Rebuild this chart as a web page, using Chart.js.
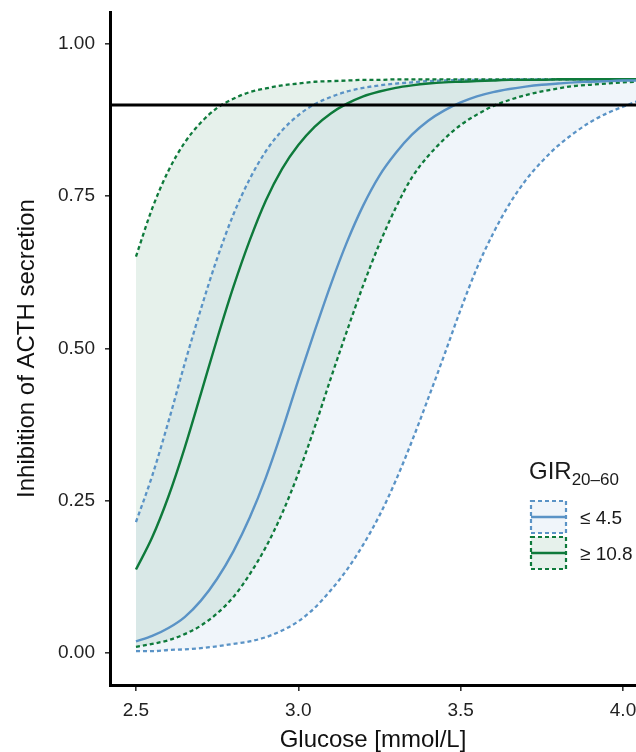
<!DOCTYPE html>
<html>
<head>
<meta charset="utf-8">
<script src="https://cdn.jsdelivr.net/npm/chart.js@4.4.1/dist/chart.umd.min.js"></script>
<style>
  html, body { margin: 0; padding: 0; background: #ffffff; }
  #wrap { position: relative; width: 636px; height: 752px; }
</style>
</head>
<body>
<div id="wrap"><canvas id="c" width="636" height="752"></canvas></div>
<script>
// Glucose grid (mmol/L)
const glucose = [2.50, 2.55, 2.60, 2.65, 2.70, 2.75, 2.80, 2.85, 2.90, 2.95,
                 3.00, 3.05, 3.10, 3.15, 3.20, 3.25, 3.30, 3.35, 3.40, 3.45,
                 3.50, 3.55, 3.60, 3.65, 3.70, 3.75, 3.80, 3.85, 3.90, 3.95,
                 4.00, 4.05];

// GIR20-60 <= 4.5: fitted curve and its band
const lowMedian = [0.019, 0.028, 0.041, 0.059, 0.086, 0.122, 0.167, 0.222, 0.288, 0.365,
                   0.448, 0.528, 0.605, 0.675, 0.735, 0.784, 0.821, 0.851, 0.874, 0.891,
                   0.904, 0.914, 0.921, 0.926, 0.930, 0.933, 0.935, 0.937, 0.938, 0.939,
                   0.940, 0.940];
const lowUpper  = [0.215, 0.291, 0.380, 0.475, 0.565, 0.648, 0.720, 0.778, 0.824, 0.858,
                   0.883, 0.901, 0.913, 0.922, 0.928, 0.932, 0.935, 0.937, 0.939, 0.940,
                   0.941, 0.941, 0.941, 0.942, 0.942, 0.942, 0.942, 0.942, 0.942, 0.942,
                   0.942, 0.942];
const lowLower  = [0.003, 0.003, 0.005, 0.006, 0.008, 0.011, 0.015, 0.019, 0.026, 0.037,
                   0.052, 0.074, 0.103, 0.137, 0.178, 0.226, 0.283, 0.348, 0.418, 0.490,
                   0.564, 0.632, 0.689, 0.737, 0.776, 0.807, 0.833, 0.854, 0.872, 0.886,
                   0.897, 0.907];

// GIR20-60 >= 10.8: fitted curve and its band
const highMedian = [0.137, 0.190, 0.257, 0.337, 0.426, 0.516, 0.601, 0.677, 0.743, 0.795,
                    0.834, 0.864, 0.886, 0.902, 0.914, 0.922, 0.928, 0.932, 0.935, 0.937,
                    0.938, 0.939, 0.940, 0.941, 0.941, 0.941, 0.942, 0.942, 0.942, 0.942,
                    0.942, 0.942];
const highUpper  = [0.651, 0.730, 0.792, 0.838, 0.871, 0.895, 0.910, 0.921, 0.927, 0.932,
                    0.935, 0.938, 0.939, 0.940, 0.941, 0.941, 0.942, 0.942, 0.942, 0.942,
                    0.942, 0.942, 0.942, 0.942, 0.942, 0.942, 0.942, 0.942, 0.942, 0.942,
                    0.942, 0.942];
const highLower  = [0.010, 0.015, 0.021, 0.031, 0.045, 0.065, 0.092, 0.129, 0.174, 0.229,
                    0.295, 0.370, 0.451, 0.529, 0.604, 0.672, 0.731, 0.781, 0.816, 0.844,
                    0.867, 0.884, 0.898, 0.908, 0.916, 0.922, 0.927, 0.931, 0.933, 0.935,
                    0.937, 0.938];

const threshold = 0.9;
const xTicks = [2.5, 3.0, 3.5, 4.0];
const yTicks = [0.00, 0.25, 0.50, 0.75, 1.00];
const groupLabels = ['\u2264 4.5', '\u2265 10.8'];
const legendTitle = 'GIR';
const legendSub = '20\u201360';

const BLUE = '#5a93c6';
const GREEN = '#0e7a3b';
const BLUE_FILL = 'rgba(91,149,200,0.09)';
const GREEN_FILL = 'rgba(14,122,59,0.10)';
const FONT = '"Liberation Sans", Arial, Helvetica, sans-serif';

const pts = ys => glucose.map((g, i) => ({ x: g, y: ys[i] }));
const lineDs = (label, ys, color, dashed, extra) => Object.assign({
  label, data: pts(ys), borderColor: color, borderWidth: dashed ? 2.3 : 2.4,
  borderDash: dashed ? [4, 3] : [], pointRadius: 0, fill: false,
  cubicInterpolationMode: 'monotone'
}, extra || {});

// Horizontal reference line at the threshold
const thresholdLine = {
  id: 'thresholdLine',
  afterDatasetsDraw(chart) {
    const { ctx, chartArea } = chart;
    const y = chart.scales.y.getPixelForValue(threshold);
    ctx.save();
    ctx.strokeStyle = '#000';
    ctx.lineWidth = 3;
    ctx.beginPath();
    ctx.moveTo(chartArea.left, y);
    ctx.lineTo(chartArea.right, y);
    ctx.stroke();
    ctx.restore();
  }
};

// Legend: title with subscript and ribbon-style keys
const groupLegend = {
  id: 'groupLegend',
  afterDraw(chart) {
    const ctx = chart.ctx;
    ctx.save();
    ctx.fillStyle = '#1a1a1a';
    ctx.textBaseline = 'alphabetic';
    ctx.textAlign = 'left';
    ctx.font = '24px ' + FONT;
    ctx.fillText(legendTitle, 529, 479);
    const w = ctx.measureText(legendTitle).width;
    ctx.font = '17px ' + FONT;
    ctx.fillText(legendSub, 529 + w, 485);

    const keys = [
      { top: 501, color: BLUE, fill: BLUE_FILL, label: groupLabels[0] },
      { top: 537, color: GREEN, fill: GREEN_FILL, label: groupLabels[1] }
    ];
    keys.forEach(k => {
      const left = 531, width = 35, height = 32;
      ctx.fillStyle = '#ffffff';
      ctx.fillRect(left, k.top, width, height);
      ctx.fillStyle = k.fill;
      ctx.fillRect(left, k.top, width, height);
      ctx.strokeStyle = k.color;
      ctx.lineWidth = 2.2;
      ctx.setLineDash([4, 3]);
      ctx.strokeRect(left, k.top, width, height);
      ctx.setLineDash([]);
      ctx.lineWidth = 2.6;
      ctx.beginPath();
      ctx.moveTo(left, k.top + height / 2);
      ctx.lineTo(left + width, k.top + height / 2);
      ctx.stroke();
      ctx.fillStyle = '#1a1a1a';
      ctx.font = '19px ' + FONT;
      ctx.fillText(k.label, 580, k.top + height / 2 + 7);
    });
    ctx.restore();
  }
};

const tickFont = { family: FONT, size: 19 };
const titleFont = { family: FONT, size: 24 };

new Chart(document.getElementById('c'), {
  type: 'line',
  data: {
    datasets: [
      lineDs('lowMedian', lowMedian, BLUE, false),
      lineDs('highMedian', highMedian, GREEN, false),
      lineDs('highUpper', highUpper, GREEN, true, { fill: { target: 3 }, backgroundColor: GREEN_FILL }),
      lineDs('highLower', highLower, GREEN, true),
      lineDs('lowUpper', lowUpper, BLUE, true, { fill: { target: 5 }, backgroundColor: BLUE_FILL }),
      lineDs('lowLower', lowLower, BLUE, true)
    ]
  },
  options: {
    responsive: false,
    animation: false,
    devicePixelRatio: 1,
    layout: { padding: { top: 12, right: 0, left: 0, bottom: 0 } },
    plugins: {
      legend: { display: false },
      tooltip: { enabled: false },
      filler: { drawTime: 'beforeDatasetsDraw' }
    },
    scales: {
      x: {
        type: 'linear',
        min: 2.42,
        max: 4.04,
        afterBuildTicks: s => { s.ticks = xTicks.map(v => ({ value: v })); },
        afterFit: s => { s.height = 67; s.paddingLeft = 0; s.paddingRight = 0; },
        ticks: { font: tickFont, color: '#222', padding: 8, maxRotation: 0, autoSkip: false,
                 callback: v => Number(v).toFixed(1) },
        grid: { drawOnChartArea: false, drawTicks: true, tickLength: 6, color: '#333', lineWidth: 1.6 },
        border: { display: true, color: '#000', width: 3 },
        title: { display: true, text: 'Glucose [mmol/L]', font: titleFont, color: '#111',
                 padding: { top: 0, bottom: -3 } }
      },
      y: {
        type: 'linear',
        min: -0.0525,
        max: 1.0525,
        afterBuildTicks: s => { s.ticks = yTicks.map(v => ({ value: v })); },
        afterFit: s => { s.width = 110; s.paddingTop = 0; s.paddingBottom = 0; },
        ticks: { font: tickFont, color: '#222', padding: 10, autoSkip: false,
                 callback: v => Number(v).toFixed(2) },
        grid: { drawOnChartArea: false, drawTicks: true, tickLength: 5, color: '#333', lineWidth: 1.6 },
        border: { display: true, color: '#000', width: 3 },
        title: { display: true, text: 'Inhibition of ACTH secretion', font: titleFont, color: '#111',
                 padding: { top: 13, bottom: 0 } }
      }
    }
  },
  plugins: [thresholdLine, groupLegend]
});
</script>
</body>
</html>
